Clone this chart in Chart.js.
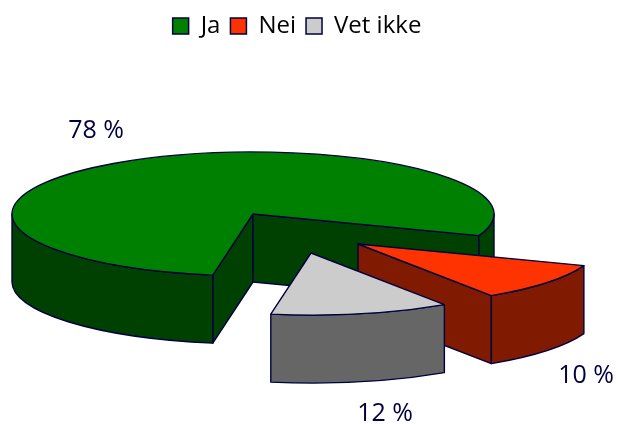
<!DOCTYPE html>
<html lang="no">
<head>
  <meta charset="UTF-8">
  <title>Ja / Nei / Vet ikke</title>
  <style>
    body { margin: 0; background: #fff; }
    #chart { display: block; }
  </style>
  <script src="https://cdn.jsdelivr.net/npm/chart.js"></script>
</head>
<body>
  <canvas id="chart" width="618" height="424"></canvas>
  <script>
    const categories = ['Ja', 'Nei', 'Vet ikke'];
    const shares = [78, 10, 12];
    const topColors = ['#008000', '#FF3300', '#CCCCCC'];
    const sideColors = ['#004000', '#801A00', '#666666'];

    // Look of the tilted pie
    const outline = '#000040';
    const fontName = '"Open Sans", sans-serif';
    const centerX = 253, centerY = 214, radiusX = 241, radiusY = 62, depth = 68;
    const explode = [[0, 0], [105, 30], [58, 39]];
    const labelSpots = [[96, 131], [586, 376], [385, 414]];

    // Pie faces are the library's arcs, squashed; the walls are built from the same angles
    const tiltedPie = {
      id: 'tiltedPie',
      beforeDatasetsDraw(chart) {
        const ctx = chart.ctx;
        chart.getDatasetMeta(0).data.forEach((arc, i) => {
          const { x, y, startAngle, endAngle, outerRadius } = arc.getProps(['x', 'y', 'startAngle', 'endAngle', 'outerRadius']);
          const cx = centerX + explode[i][0];
          const cy = centerY + explode[i][1];

          ctx.save();
          ctx.lineWidth = 1.4;
          ctx.lineJoin = 'round';
          ctx.strokeStyle = outline;
          ctx.fillStyle = sideColors[i];

          // flat walls of the cut, only those facing the viewer
          [[startAngle, startAngle - Math.PI / 2], [endAngle, endAngle + Math.PI / 2]].forEach(([a, normal]) => {
            if (Math.sin(normal) <= 0) return;
            const ex = cx + radiusX * Math.cos(a);
            const ey = cy + radiusY * Math.sin(a);
            ctx.beginPath();
            ctx.moveTo(cx, cy);
            ctx.lineTo(ex, ey);
            ctx.lineTo(ex, ey + depth);
            ctx.lineTo(cx, cy + depth);
            ctx.closePath();
            ctx.fill();
            ctx.stroke();
          });

          // curved outer wall, front half of the ellipse only
          [[0, Math.PI], [2 * Math.PI, 3 * Math.PI]].forEach(([lo, hi]) => {
            const a0 = Math.max(startAngle, lo);
            const a1 = Math.min(endAngle, hi);
            if (a1 <= a0) return;
            ctx.beginPath();
            ctx.ellipse(cx, cy, radiusX, radiusY, 0, a0, a1);
            ctx.ellipse(cx, cy + depth, radiusX, radiusY, 0, a1, a0, true);
            ctx.closePath();
            ctx.fill();
            ctx.stroke();
          });

          // top face
          ctx.save();
          ctx.translate(cx, cy);
          ctx.scale(radiusX / outerRadius, radiusY / outerRadius);
          ctx.translate(-x, -y);
          arc.draw(ctx);
          ctx.restore();

          ctx.beginPath();
          ctx.moveTo(cx, cy);
          ctx.ellipse(cx, cy, radiusX, radiusY, 0, startAngle, endAngle);
          ctx.closePath();
          ctx.stroke();
          ctx.restore();
        });
        return false;
      },
      afterDraw(chart) {
        const ctx = chart.ctx;
        ctx.save();
        ctx.fillStyle = outline;
        ctx.font = '25px ' + fontName;
        ctx.textAlign = 'center';
        ctx.textBaseline = 'middle';
        shares.forEach((v, i) => ctx.fillText(v + ' %', labelSpots[i][0], labelSpots[i][1]));
        ctx.restore();
      }
    };

    new Chart(document.getElementById('chart'), {
      type: 'pie',
      data: {
        labels: categories,
        datasets: [{
          data: shares,
          backgroundColor: topColors,
          borderColor: outline,
          borderWidth: 0,
          rotation: 189.6
        }]
      },
      options: {
        responsive: false,
        animation: false,
        layout: { padding: { top: 4, right: 24 } },
        plugins: {
          tooltip: { enabled: false },
          legend: {
            position: 'top',
            labels: {
              boxWidth: 16,
              boxHeight: 16,
              padding: 10,
              color: outline,
              font: { family: fontName, size: 24 },
              generateLabels: (chart) => categories.map((name, i) => ({
                text: name,
                fillStyle: topColors[i],
                strokeStyle: outline,
                lineWidth: 1.5,
                index: i
              }))
            }
          }
        }
      },
      plugins: [tiltedPie]
    });
  </script>
</body>
</html>
